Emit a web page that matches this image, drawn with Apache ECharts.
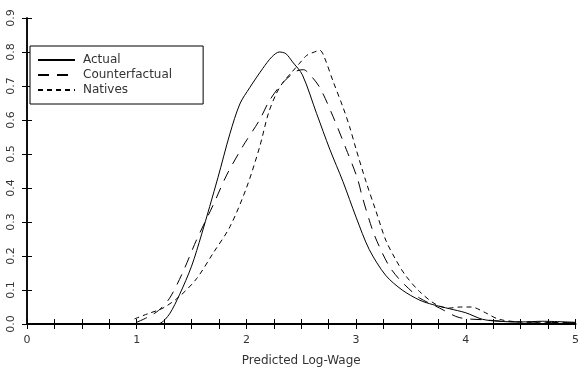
<!DOCTYPE html>
<html>
<head>
<meta charset="utf-8">
<script src="https://cdn.jsdelivr.net/npm/echarts@6/dist/echarts.min.js"></script>
<style>
  html, body { margin: 0; padding: 0; background: #fff; }
  #main { width: 582px; height: 372px; }
</style>
</head>
<body>
<div id="main"></div>
<script>
// density curves
const actualX = [1.15, 1.22, 1.3, 1.39, 1.5, 1.59, 1.74, 1.85, 1.94, 2.03, 2.15, 2.23, 2.3, 2.36, 2.42, 2.51, 2.64, 2.76, 2.88, 3.0, 3.12, 3.27, 3.42, 3.58, 3.7, 3.85, 4.0, 4.15, 4.3, 4.5, 4.7, 5.0]
const actualY = [0.0, 0.003, 0.03, 0.086, 0.17, 0.262, 0.43, 0.56, 0.647, 0.695, 0.752, 0.785, 0.8, 0.795, 0.771, 0.733, 0.619, 0.514, 0.419, 0.314, 0.219, 0.143, 0.1, 0.07, 0.057, 0.045, 0.033, 0.014, 0.008, 0.006, 0.008, 0.005]

const counterX = [1.0, 1.1, 1.2, 1.3, 1.42, 1.545, 1.7, 1.82, 1.97, 2.12, 2.21, 2.33, 2.45, 2.52, 2.58, 2.67, 2.79, 2.91, 3.01, 3.06, 3.15, 3.21, 3.3, 3.39, 3.51, 3.58, 3.76, 3.94, 4.18, 4.4, 4.7, 5.0]
const counterY = [0.005, 0.02, 0.04, 0.076, 0.152, 0.247, 0.352, 0.438, 0.524, 0.6, 0.657, 0.709, 0.743, 0.748, 0.733, 0.695, 0.61, 0.514, 0.43, 0.37, 0.276, 0.229, 0.171, 0.133, 0.095, 0.076, 0.047, 0.019, 0.012, 0.007, 0.005, 0.004]

const nativesX = [0.98, 1.1, 1.24, 1.39, 1.545, 1.7, 1.85, 2.0, 2.12, 2.2, 2.27, 2.33, 2.42, 2.48, 2.55, 2.62, 2.67, 2.71, 2.79, 2.88, 2.94, 3.0, 3.09, 3.18, 3.27, 3.36, 3.45, 3.58, 3.73, 3.85, 3.95, 4.05, 4.18, 4.3, 4.5, 4.8, 5.0]
const nativesY = [0.015, 0.03, 0.047, 0.081, 0.133, 0.21, 0.286, 0.4, 0.52, 0.619, 0.676, 0.709, 0.743, 0.765, 0.79, 0.8, 0.805, 0.785, 0.714, 0.638, 0.581, 0.514, 0.419, 0.333, 0.247, 0.19, 0.143, 0.095, 0.057, 0.047, 0.05, 0.05, 0.033, 0.014, 0.006, 0.005, 0.003]

const seriesNames = ['Actual', 'Counterfactual', 'Natives']
const xTitle = 'Predicted Log-Wage'

const zip = (xs, ys) => xs.map((x, i) => [x, ys[i]])

const FONT = 'DejaVu Sans'
const INK = '#000'
const TEXT = '#333'

const chart = echarts.init(document.getElementById('main'))

const frameAxis = {
  axisLine: {show: true, lineStyle: {color: INK, width: 1.5}},
  axisTick: {show: true, inside: true, length: 5, lineStyle: {color: INK, width: 1}},
  splitLine: {show: false}
}

const lineBase = {
  type: 'line',
  symbol: 'none',
  smooth: 0.3,
  animation: false
}

const option = {
  backgroundColor: '#fff',
  animation: false,
  grid: {left: 27, right: 5, top: 18, bottom: 39},
  legend: {
    orient: 'vertical',
    left: 30,
    top: 46,
    padding: [8, 31, 8, 7],
    itemGap: 3,
    itemWidth: 37,
    itemHeight: 11,
    borderColor: INK,
    borderWidth: 1,
    backgroundColor: '#fff',
    itemStyle: {opacity: 0},
    textStyle: {fontFamily: FONT, fontSize: 12, color: TEXT, padding: [0, 0, 0, 3]},
    data: seriesNames
  },
  xAxis: [
    Object.assign({}, frameAxis, {
      type: 'value', min: 0, max: 5, interval: 1, splitNumber: 5,
      axisLine: {show: true, lineStyle: {color: INK, width: 2}},
      minorTick: {show: true, splitNumber: 4, length: 5, lineStyle: {color: INK, width: 1}},
      axisLabel: {fontFamily: FONT, fontSize: 11, color: TEXT, margin: 11},
      name: xTitle,
      nameLocation: 'middle',
      nameGap: 31,
      nameTextStyle: {fontFamily: FONT, fontSize: 12, color: TEXT}
    }),
    Object.assign({}, frameAxis, {
      type: 'value', min: 0, max: 5, interval: 1, position: 'top',
      minorTick: {show: true, splitNumber: 4, length: 5, lineStyle: {color: INK, width: 1}},
      axisLabel: {show: false}
    })
  ],
  yAxis: [
    Object.assign({}, frameAxis, {
      type: 'value', min: 0, max: 0.9, interval: 0.1,
      axisLabel: {
        fontFamily: FONT, fontSize: 11, color: TEXT, rotate: 90, margin: 10,
        formatter: v => v.toFixed(1)
      }
    }),
    Object.assign({}, frameAxis, {
      type: 'value', min: 0, max: 0.9, interval: 0.1, position: 'right',
      axisLabel: {show: false}
    })
  ],
  series: [
    Object.assign({}, lineBase, {
      name: seriesNames[0],
      data: zip(actualX, actualY),
      lineStyle: {color: INK, width: 1, type: 'solid'},
      itemStyle: {color: INK}
    }),
    Object.assign({}, lineBase, {
      name: seriesNames[1],
      data: zip(counterX, counterY),
      lineStyle: {color: INK, width: 1, type: [11, 8]},
      itemStyle: {color: INK}
    }),
    Object.assign({}, lineBase, {
      name: seriesNames[2],
      data: zip(nativesX, nativesY),
      lineStyle: {color: INK, width: 1, type: [5, 4]},
      itemStyle: {color: INK}
    })
  ]
}

chart.setOption(option)
</script>
</body>
</html>
